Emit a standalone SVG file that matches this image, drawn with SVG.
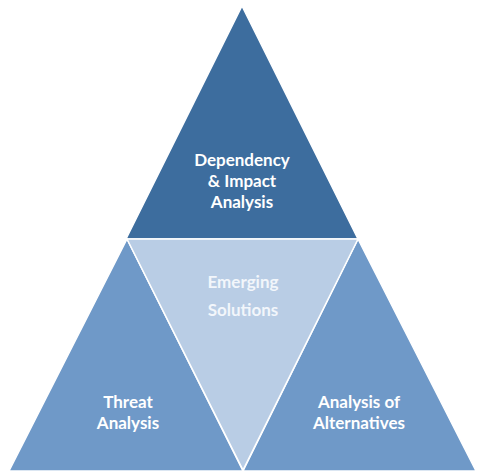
<svg xmlns="http://www.w3.org/2000/svg" width="486" height="473" viewBox="0 0 486 473">
<style>
.lbl{font-family:Lato,"Open Sans","Liberation Sans",sans-serif;font-weight:bold;font-size:17px;fill:#ffffff;text-anchor:middle}
.pale{fill:#f2f6fb}
.tri{stroke:#ffffff;stroke-width:1.5;stroke-linejoin:miter}
</style>
<rect width="486" height="473" fill="#ffffff"/>
<g id="top">
<polygon class="tri" points="242,6 358,239 126,239" fill="#3d6d9e"/>
<text class="lbl" x="242" y="166">Dependency</text>
<text class="lbl" x="242" y="187">&amp; Impact</text>
<text class="lbl" x="242" y="208">Analysis</text>
</g>
<g id="left">
<polygon class="tri" points="127,239 243,471 9,471" fill="#6f99c8"/>
<text class="lbl" x="128" y="408">Threat</text>
<text class="lbl" x="128" y="429">Analysis</text>
</g>
<g id="right">
<polygon class="tri" points="358,239 476,471 243,471" fill="#6f99c8"/>
<text class="lbl" x="359" y="408">Analysis of</text>
<text class="lbl" x="359" y="429">Alternatives</text>
</g>
<g id="middle">
<polygon class="tri" points="127,239 358,239 243,470" fill="#b9cde5"/>
<text class="lbl pale" x="243" y="288">Emerging</text>
<text class="lbl pale" x="243" y="316">Solutions</text>
</g>
<g id="connectors"/>
</svg>
